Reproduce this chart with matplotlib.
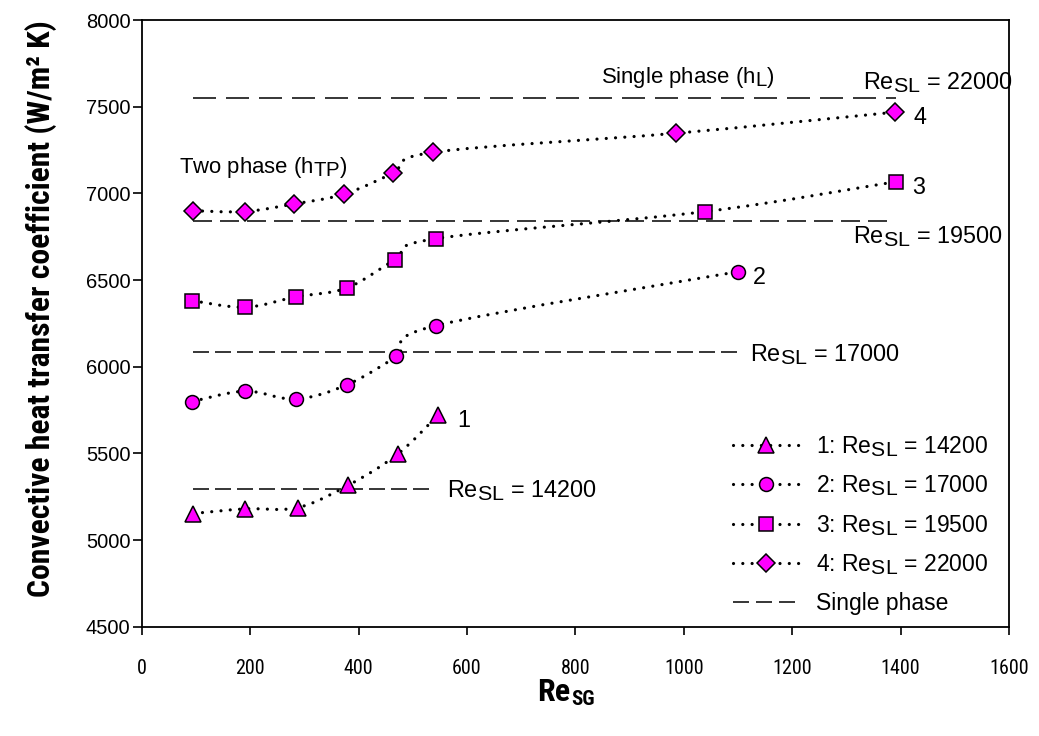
import numpy as np
import matplotlib
matplotlib.use("Agg")
import matplotlib.pyplot as plt
from matplotlib.path import Path
from matplotlib.patches import PathPatch
from matplotlib.lines import Line2D
from matplotlib import font_manager
import matplotlib._mathtext as _mathtext

# Subscripts in the Re_SL labels are drawn almost full size
_mathtext.SHRINK_FACTOR = 0.92

# ---- data -------------------------------------------------------------
re_sg_1 = [95, 191, 288, 381, 472, 547]
h_tp_1 = [5153, 5180, 5187, 5316, 5495, 5722]

re_sg_2 = [93, 191, 284, 378, 470, 543, 1100]
h_tp_2 = [5799, 5859, 5813, 5895, 6060, 6237, 6548]

re_sg_3 = [93, 191, 284, 378, 468, 543, 1040, 1391]
h_tp_3 = [6381, 6343, 6403, 6454, 6618, 6739, 6895, 7067]

re_sg_4 = [95, 190, 281, 373, 463, 538, 986, 1389]
h_tp_4 = [6900, 6895, 6939, 6995, 7116, 7237, 7347, 7468]

re_sl = [14200, 17000, 19500, 22000]
series_ids = ["1", "2", "3", "4"]

# single-phase coefficients and the Re_SG span of each reference line
h_l = [5297, 6085, 6841, 7548]
h_l_from = [95, 95, 95, 95]
h_l_to = [538, 1102, 1390, 1391]

x_ticks = [0, 200, 400, 600, 800, 1000, 1200, 1400, 1600]
y_ticks = [4500, 5000, 5500, 6000, 6500, 7000, 7500, 8000]

# ---- fonts ------------------------------------------------------------
available = {f.name for f in font_manager.fontManager.ttflist}
REG = "Liberation Sans"
NARROW = next((f for f in ["Liberation Sans Narrow", "Roboto Condensed",
                           "Archivo Narrow", "PT Sans Narrow"] if f in available), REG)

plt.rcParams["font.family"] = [REG, "DejaVu Sans"]
plt.rcParams["mathtext.fontset"] = "custom"
plt.rcParams["mathtext.rm"] = REG
plt.rcParams["mathtext.default"] = "regular"

MAGENTA = "#FF00FF"
DOT = dict(color="black", lw=2.3, linestyle=(0, (0.01, 2.9)))
markers = ["^", "o", "s", "D"]
msizes = [11, 10, 10, 9.2]


def smooth_path(x, y):
    """Cubic Bezier path passing through every point (Catmull-Rom style)."""
    pts = np.column_stack([x, y]).astype(float)
    n = len(pts)
    verts = [pts[0]]
    codes = [Path.MOVETO]
    for i in range(n - 1):
        p0 = pts[i - 1] if i > 0 else pts[i]
        p1, p2 = pts[i], pts[i + 1]
        p3 = pts[i + 2] if i + 2 < n else pts[i + 1]
        verts += [p1 + (p2 - p0) / 6.0, p2 - (p3 - p1) / 6.0, p2]
        codes += [Path.CURVE4] * 3
    return Path(verts, codes)


fig = plt.figure(figsize=(10.39, 7.36), dpi=100)
ax = fig.add_axes([0.1364, 0.1485, 0.8347, 0.8243])

# single-phase reference lines
dash_px = [(16, 6), (16, 6), (19, 8), (23, 10)]
for h, x0, x1, dp in zip(h_l, h_l_from, h_l_to, dash_px):
    lw = 1.1
    ax.plot([x0, x1], [h, h], color="black", lw=lw,
            linestyle=(0, (dp[0] * 0.72 / lw, dp[1] * 0.72 / lw)), zorder=1)

# two-phase series
series = [(re_sg_1, h_tp_1), (re_sg_2, h_tp_2), (re_sg_3, h_tp_3), (re_sg_4, h_tp_4)]
handles = []
for (xs, ys), mk, ms, sid, rs in zip(series, markers, msizes, series_ids, re_sl):
    patch = PathPatch(smooth_path(xs, ys), fill=False, edgecolor="black",
                      lw=DOT["lw"], linestyle=DOT["linestyle"], zorder=2)
    patch.set_capstyle("round")
    ax.add_patch(patch)
    ax.plot(xs, ys, linestyle="none", marker=mk, ms=ms, mfc=MAGENTA,
            mec="black", mew=1.1, zorder=3)
    h = Line2D([], [], marker=mk, ms=ms, mfc=MAGENTA, mec="black", mew=1.1,
               dash_capstyle="round", **DOT)
    handles.append((h, f"{sid}: Re$_{{SL}}$ = {rs}"))

handles.append((Line2D([], [], color="black", lw=1.1,
                       linestyle=(0, (16 * 0.72 / 1.1, 7 * 0.72 / 1.1))),
                "Single phase"))

leg = ax.legend([h for h, _ in handles], [l for _, l in handles],
                loc="upper left", bbox_to_anchor=(0.682, 0.318),
                frameon=False, fontsize=16.5, handlelength=2.9,
                handletextpad=0.72, labelspacing=0.64, borderpad=0,
                borderaxespad=0, numpoints=1)

# annotations
TXT = 16.8
ax.text(69, 7115, "Two phase (h$_{TP}$)", fontsize=15.9)
ax.text(847, 7635, "Single phase (h$_L$)", fontsize=15.9)
ax.text(1330, 7600, "Re$_{SL}$ = 22000", fontsize=TXT, clip_on=False)
ax.text(1312, 6712, "Re$_{SL}$ = 19500", fontsize=TXT)
ax.text(1123, 6032, "Re$_{SL}$ = 17000", fontsize=TXT)
ax.text(563, 5250, "Re$_{SL}$ = 14200", fontsize=TXT)
for sid, xs, ys, dx in zip(series_ids, [re_sg_1, re_sg_2, re_sg_3, re_sg_4],
                           [h_tp_1, h_tp_2, h_tp_3, h_tp_4], [35, 28, 31, 35]):
    ax.text(xs[-1] + dx, ys[-1] - 70, sid, fontsize=TXT)

# axes
ax.set_xlim(0, 1600)
ax.set_ylim(4500, 8000)
ax.set_xticks(x_ticks)
ax.set_yticks(y_ticks)
ax.set_xticklabels([str(v) for v in x_ticks], fontsize=14.5, family=NARROW)
ax.set_yticklabels([str(v) for v in y_ticks], fontsize=14.5)
ax.tick_params(axis="x", direction="out", length=6, width=1.2, pad=17)
ax.tick_params(axis="y", direction="out", length=6.5, width=1.2, pad=1.5)
for s in ax.spines.values():
    s.set_linewidth(1.3)

ax.set_ylabel("Convective heat transfer coefficient (W/m\u00b2 K)",
              fontsize=22.8, fontweight="bold", family=NARROW)
ax.yaxis.set_label_coords(-0.098, 0.524)

# x label: Re with a small SG subscript
xl = fig.text(0.549, 0.048, "Re", fontsize=23, fontweight="bold",
              family=NARROW, ha="right", va="baseline")
ax.annotate("SG", xy=(1, 0), xycoords=xl, xytext=(0.5, -1.5),
            textcoords="offset points", fontsize=15, fontweight="bold",
            family=NARROW, ha="left", va="bottom")

fig.savefig("out.png", dpi=100)
